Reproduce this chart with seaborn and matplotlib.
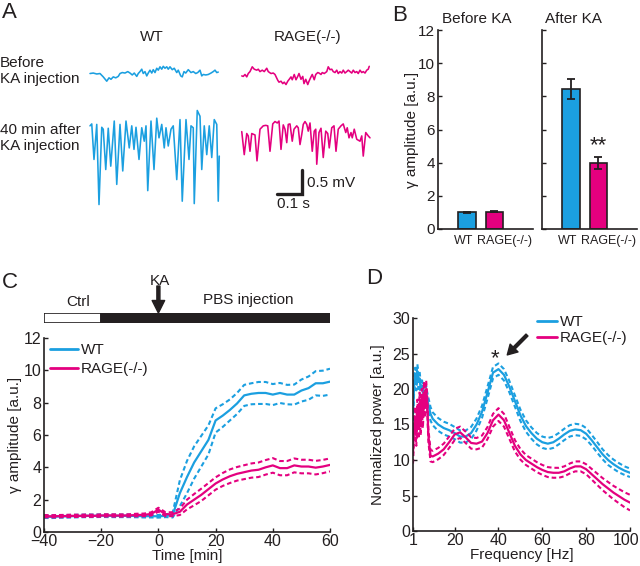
import matplotlib.pyplot as plt
import matplotlib.transforms as mtrans
import numpy as np
import seaborn as sns

blue = '#1b9fe0'
pink = '#e4007f'

# ---- A: example LFP traces (turning points), time [ms], voltage [mV]
wt_pre_t = [20, 33, 47, 60, 73, 87, 96, 104, 113, 123, 133, 140, 149, 160, 171, 180, 189, 197, 207, 213,
            220, 227, 233, 240, 247, 253, 260, 267, 273, 280, 287, 293, 300, 307, 313, 320, 327, 333, 340,
            349, 357, 367, 373, 383, 389, 396, 403, 413, 424, 433, 443, 451, 460, 467, 473, 483, 493, 504,
            513, 520, 527, 533]
wt_pre_v = [-0.01, 0.0, -0.02, -0.01, -0.08, -0.17, -0.10, -0.13, -0.08, -0.10, -0.07, -0.01, 0.01, 0.0, 0.03,
            0.0, -0.04, 0.0, -0.07, -0.01, 0.03, 0.08, -0.01, 0.03, -0.06, 0.0, 0.06, 0.0, 0.07, 0.01, 0.10,
            0.06, 0.13, 0.08, 0.14, 0.10, 0.13, 0.08, 0.13, 0.07, 0.10, 0.01, 0.06, -0.06, -0.08, 0.03, 0.0,
            0.07, 0.01, 0.03, -0.01, 0.01, 0.06, -0.06, -0.03, -0.04, -0.03, 0.0, 0.03, 0.06, 0.01, 0.02]

rage_pre_t = [27, 33, 40, 47, 53, 60, 69, 77, 87, 93, 100, 109, 117, 127, 133, 144, 153, 160, 171, 176,
              184, 191, 197, 204, 211, 217, 224, 229, 237, 244, 251, 256, 264, 271, 276, 283, 291, 296, 304,
              309, 317, 323, 331, 336, 344, 349, 357, 367, 373, 380, 387, 393, 400, 407, 413, 420, 427, 433,
              440, 447, 453, 460, 467, 473, 480, 487, 493, 500, 507, 513, 520, 527, 533, 537]
rage_pre_v = [-0.06, -0.07, -0.03, -0.08, -0.01, 0.03, 0.13, 0.08, 0.06, 0.08, 0.03, 0.06, 0.03, 0.10, 0.03,
              -0.01, 0.0, -0.03, -0.15, -0.19, -0.17, -0.22, -0.19, -0.24, -0.17, -0.13, -0.08, -0.14, -0.03,
              -0.14, -0.07, -0.01, -0.13, -0.07, -0.22, -0.13, -0.24, -0.17, -0.08, -0.03, -0.14, -0.03, 0.01,
              0.0, -0.03, 0.01, -0.01, 0.03, 0.13, 0.07, 0.08, 0.03, 0.01, 0.06, -0.01, 0.03, 0.0, 0.06, 0.0,
              0.03, 0.06, 0.03, 0.0, 0.06, 0.01, 0.03, -0.01, 0.06, 0.01, 0.03, 0.0, 0.06, 0.08, 0.14]

wt_post_t = [20, 27, 36, 47, 56, 67, 73, 83, 93, 103, 117, 127, 140, 151, 164, 177, 187, 196, 204, 216,
             227, 237, 244, 251, 264, 276, 287, 296, 307, 317, 324, 333, 344, 353, 367, 380, 389, 404, 416,
             424, 433, 437, 449, 460, 467, 477, 487, 497, 507, 517, 527, 533, 537]
wt_post_v = [-0.03, 0.01, -0.73, 0.0, -1.67, -0.06, -0.10, -0.94, -0.08, -0.87, 0.07, -1.25, 0.0, -0.97, 0.07,
             -0.49, -0.03, -0.52, -0.06, -0.73, -0.07, -0.35, -0.03, -1.38, 0.07, -0.94, 0.13, -0.28, 0.0,
             -0.49, -0.07, -0.45, -0.10, -0.03, -1.15, 0.10, -1.60, 0.10, -0.73, -0.03, -0.07, -1.65, 0.29,
             0.17, -0.94, -0.03, -0.63, -0.03, -0.69, 0.10, 0.0, -1.60, -0.66]

rage_post_t = [27, 37, 47, 53, 60, 67, 80, 88, 100, 113, 123, 131, 140, 151, 160, 169, 176, 184, 193, 200,
               207, 213, 220, 229, 236, 247, 253, 260, 267, 273, 280, 287, 293, 300, 309, 317, 323, 327, 336,
               344, 353, 363, 371, 377, 387, 396, 404, 413, 424, 433, 443, 449, 456, 464, 469, 477, 487, 500,
               507, 513, 523, 533, 540]
rage_post_v = [-0.15, -0.63, -0.19, -0.24, -0.56, -0.19, -0.22, -0.76, -0.10, -0.03, -0.02, -0.03, -0.56, 0.01,
               0.06, 0.03, 0.07, -0.52, -0.01, -0.10, -0.38, 0.0, 0.01, -0.35, -0.10, -0.03, -0.07, -0.42,
               -0.21, 0.0, 0.06, 0.0, -0.14, 0.03, -0.56, -0.14, -0.10, -0.83, -0.17, -0.08, -0.69, -0.14,
               -0.19, -0.49, -0.07, -0.03, -0.56, -0.10, -0.03, 0.01, -0.17, -0.07, -0.28, -0.17, -0.28,
               -0.10, -0.31, -0.35, -0.24, -0.66, -0.17, -0.24, -0.28]

# ---- B: gamma amplitude
groups = ['WT', 'RAGE(-/-)']
before_mean = [1.02, 1.04]
before_sem = [0.03, 0.04]
after_mean = [8.45, 4.0]
after_sem = [0.62, 0.36]

# ---- C: time course
time_min = [-40, -37.5, -35, -32.5, -30, -27.5, -25, -22.5, -20, -17.5, -15, -12.5, -10, -7.5, -5, -2.5, 0,
            2.5, 5, 7.5, 10, 12.5, 15, 17.5, 20, 22.5, 25, 27.5, 30, 32.5, 35, 37.5, 40, 42.5, 45, 47.5, 50,
            52.5, 55, 57.5, 60]
wt_time_mean = [0.95, 0.94, 0.96, 0.97, 0.98, 0.99, 1.0, 1.0, 1.01, 1.0, 1.0, 1.0, 1.0, 0.99, 0.98, 0.98, 0.97,
                1.0, 1.05, 2.4, 3.4, 4.3, 5.0, 5.7, 6.9, 7.2, 7.55, 7.95, 8.45, 8.55, 8.6, 8.6, 8.5, 8.6, 8.5,
                8.5, 8.75, 8.9, 9.2, 9.2, 9.3]
wt_time_sem = [0.08, 0.08, 0.08, 0.08, 0.08, 0.08, 0.08, 0.08, 0.08, 0.08, 0.08, 0.08, 0.08, 0.08, 0.08, 0.08,
               0.08, 0.08, 0.15, 0.8, 1.0, 1.0, 0.95, 0.9, 0.75, 0.7, 0.65, 0.65, 0.65, 0.65, 0.68, 0.68, 0.65,
               0.62, 0.6, 0.62, 0.68, 0.72, 0.75, 0.78, 0.8]
rage_time_mean = [0.98, 0.97, 0.98, 0.99, 1.0, 1.0, 1.01, 1.0, 1.02, 1.03, 1.02, 1.02, 1.03, 1.05, 1.06, 1.12,
                  1.38, 1.1, 1.1, 1.25, 1.7, 2.0, 2.3, 2.65, 3.0, 3.25, 3.45, 3.6, 3.7, 3.8, 3.85, 4.0, 4.12,
                  3.95, 3.95, 4.12, 4.05, 4.05, 3.98, 4.05, 4.15]
rage_time_sem = [0.07, 0.07, 0.07, 0.07, 0.07, 0.07, 0.07, 0.07, 0.07, 0.07, 0.07, 0.07, 0.07, 0.08, 0.08, 0.1,
                 0.12, 0.12, 0.12, 0.2, 0.3, 0.35, 0.38, 0.38, 0.38, 0.4, 0.42, 0.42, 0.43, 0.44, 0.45, 0.45,
                 0.45, 0.44, 0.44, 0.43, 0.42, 0.42, 0.42, 0.41, 0.4]
phase_start = [-40, -20]
phase_len = [20, 80]
phase_color = ['white', '#231f20']

# ---- D: power spectra
freq = [1, 1.5, 2, 2.5, 3, 3.5, 4, 4.5, 5, 5.5, 6, 6.5, 7, 7.5, 8, 9, 10, 12.5, 15, 17.5, 20, 22.5, 25, 27.5,
        30, 32.5, 35, 37.5, 40, 42.5, 45, 47.5, 50, 52.5, 55, 57.5, 60, 62.5, 65, 67.5, 70, 72.5, 75, 77.5,
        80, 82.5, 85, 87.5, 90, 92.5, 95, 97.5, 100]
wt_pow = [16.5, 20.5, 22.0, 20.8, 22.5, 21.0, 21.5, 20.0, 20.5, 19.5, 19.8, 19.0, 19.5, 18.5, 17.8, 16.5, 15.8,
          15.0, 14.5, 14.2, 13.8, 13.3, 13.3, 13.8, 15.0, 16.8, 19.5, 22.3, 22.8, 22.0, 20.3, 18.3, 16.3, 14.8,
          13.8, 13.0, 12.5, 12.3, 12.5, 13.0, 13.6, 14.1, 14.3, 14.2, 13.7, 12.8, 11.8, 10.8, 10.0, 9.4, 8.9,
          8.5, 8.2]
wt_pow_sem = [1.0, 1.0, 1.0, 1.0, 1.0, 1.0, 1.0, 1.0, 1.0, 1.0, 1.0, 1.0, 1.0, 1.0, 1.0, 0.95, 0.9, 0.9, 0.9,
              0.9, 0.85, 0.85, 0.85, 0.85, 0.85, 0.85, 0.85, 0.8, 0.8, 0.8, 0.8, 0.8, 0.8, 0.8, 0.8, 0.8, 0.8,
              0.8, 0.8, 0.8, 0.8, 0.8, 0.8, 0.8, 0.8, 0.75, 0.75, 0.7, 0.7, 0.65, 0.65, 0.6, 0.6]
rage_pow = [11.0, 14.5, 16.0, 13.5, 17.0, 14.5, 18.0, 15.0, 18.5, 16.0, 19.5, 17.5, 20.0, 18.0, 13.5, 10.6,
            10.5, 10.9, 11.5, 12.5, 13.6, 13.9, 13.2, 12.4, 12.3, 12.6, 13.8, 15.6, 16.4, 15.6, 13.8, 12.0,
            10.8, 10.0, 9.5, 9.0, 8.6, 8.3, 8.2, 8.2, 8.4, 8.8, 9.1, 9.1, 8.7, 8.0, 7.3, 6.6, 6.0, 5.4, 4.9,
            4.4, 4.0]
rage_pow_sem = [1.5, 1.5, 1.5, 1.5, 1.5, 1.5, 1.5, 1.5, 1.5, 1.5, 1.5, 1.5, 1.2, 1.0, 0.9, 0.8, 0.8, 0.8, 0.8,
                0.8, 0.8, 0.8, 0.8, 0.8, 0.8, 0.85, 0.85, 0.9, 0.9, 0.9, 0.85, 0.8, 0.75, 0.7, 0.7, 0.7, 0.7,
                0.7, 0.7, 0.7, 0.7, 0.7, 0.7, 0.7, 0.7, 0.75, 0.8, 0.85, 0.9, 0.95, 1.0, 1.05, 1.1]

sns.set_theme(style='ticks')
plt.rcParams['font.family'] = ['Liberation Sans', 'DejaVu Sans']
plt.rcParams.update({
    'font.size': 11,
    'axes.linewidth': 1.2,
    'axes.edgecolor': '#231f20',
    'xtick.direction': 'in',
    'ytick.direction': 'in',
    'xtick.major.size': 3,
    'ytick.major.size': 3,
    'xtick.major.width': 1.0,
    'ytick.major.width': 1.0,
    'xtick.major.pad': 1.5,
    'ytick.major.pad': 2,
    'xtick.labelsize': 11.5,
    'ytick.labelsize': 11.5,
    'text.color': '#231f20',
    'xtick.color': '#231f20',
    'ytick.color': '#231f20',
    'axes.labelcolor': '#231f20',
})

W, H = 640, 566
fig = plt.figure(figsize=(6.4, 5.66), dpi=100)


def fx(px):
    return px / W


def fy(py):
    return 1 - py / H


def add_ax(l, t, r, b):
    return fig.add_axes([l / W, 1 - b / H, (r - l) / W, (b - t) / H])


dash = (0, (2.2, 1.4))

# panel letters
for lab, px, py in [('A', 2, 2), ('B', 392, 5), ('C', 2, 272), ('D', 366, 268)]:
    fig.text(fx(px), fy(py), lab, fontsize=16, va='top', ha='left')

# ---------------- A
axA = add_ax(85, 50, 385, 215)
pre_off, post_off, rage_shift = -0.48, -1.55, 600
for t, v, dx, dy, c in [(wt_pre_t, wt_pre_v, 0, pre_off, blue),
                        (rage_pre_t, rage_pre_v, rage_shift, pre_off, pink),
                        (wt_post_t, wt_post_v, 0, post_off, blue),
                        (rage_post_t, rage_post_v, rage_shift, post_off, pink)]:
    sns.lineplot(x=np.array(t) + dx, y=np.array(v) + dy, color=c, lw=1.15, ax=axA)
axA.plot([768, 868, 868], [-3.0, -3.0, -2.5], color='#231f20', lw=2.4, solid_joinstyle='miter')
axA.text(888, -2.77, '0.5 mV', ha='left', va='center', fontsize=11)
axA.text(768, -3.2, '0.1 s', ha='left', va='center', fontsize=11)
axA.set_xlim(0, 1200)
axA.set_ylim(-3.4375, 0)
axA.axis('off')
fig.text(fx(152), fy(37), 'WT', ha='center', va='center', fontsize=11)
fig.text(fx(308), fy(37), 'RAGE(-/-)', ha='center', va='center', fontsize=11)
fig.text(0, fy(71), 'Before\nKA injection', ha='left', va='center', fontsize=11, linespacing=1.25)
fig.text(0, fy(138), '40 min after\nKA injection', ha='left', va='center', fontsize=11, linespacing=1.25)

# ---------------- B
axB1 = add_ax(438, 30, 533, 229)
axB2 = add_ax(542, 30, 637, 229)
for ax, m, s, title, tx in [(axB1, before_mean, before_sem, 'Before KA', 0.41),
                            (axB2, after_mean, after_sem, 'After KA', 0.33)]:
    sns.barplot(x=groups, y=m, hue=groups, palette=[blue, pink], legend=False, width=0.65,
                edgecolor='#231f20', linewidth=1.2, saturation=1, ax=ax)
    ax.errorbar([0, 1], m, yerr=s, fmt='none', ecolor='#231f20', elinewidth=1.3, capsize=3, capthick=1.3)
    ax.set_xlim(-1.05, 2.4)
    ax.set_ylim(0, 12)
    ax.set_yticks(range(0, 13, 2))
    ax.set_xticks([-0.13, 1.38])
    ax.set_xticklabels(groups, fontsize=9)
    ax.tick_params(axis='x', length=0, pad=4)
    ax.tick_params(axis='y', labelsize=11)
    ax.set_title(title, fontsize=11, pad=5, x=tx)
    ax.set_xlabel('')
    sns.despine(ax=ax)
axB2.set_yticklabels([])
axB1.set_ylabel('γ amplitude [a.u.]', fontsize=11)
axB1.yaxis.set_label_coords(-0.2, 0.5)
axB2.text(1, 5.0, '**', ha='center', va='center', fontsize=16)

# ---------------- C
axBar = add_ax(44, 313, 330, 323)
axBar.barh([0.5, 0.5], phase_len, left=phase_start, height=1, color=phase_color,
           edgecolor='#231f20', linewidth=1.2)
axBar.set_xlim(-40, 60)
axBar.set_ylim(0, 1)
axBar.axis('off')
axBar.annotate('', xy=(0, 1.0), xytext=(0, 3.7), annotation_clip=False,
               arrowprops=dict(facecolor='#231f20', edgecolor='#231f20', width=2.2, headwidth=9,
                               headlength=9, shrink=0))
fig.text(fx(160), fy(281), 'KA', ha='center', va='center', fontsize=11)
fig.text(fx(78), fy(302), 'Ctrl', ha='center', va='center', fontsize=11)
fig.text(fx(248), fy(300), 'PBS injection', ha='center', va='center', fontsize=11)

axC = add_ax(44, 338, 330, 532)
hC = []
for mean, sem, col, lab in [(wt_time_mean, wt_time_sem, blue, 'WT'),
                            (rage_time_mean, rage_time_sem, pink, 'RAGE(-/-)')]:
    mm, ss = np.array(mean), np.array(sem)
    sns.lineplot(x=time_min, y=mm + ss, color=col, lw=1.5, linestyle=dash, ax=axC)
    sns.lineplot(x=time_min, y=mm - ss, color=col, lw=1.5, linestyle=dash, ax=axC)
    sns.lineplot(x=time_min, y=mm, color=col, lw=1.6, ax=axC)
    hC.append(plt.Line2D([], [], color=col, lw=2, label=lab))
axC.set_xlim(-40, 60)
axC.set_ylim(0, 12)
axC.set_xticks(range(-40, 61, 20))
axC.set_yticks(range(0, 13, 2))
axC.set_xlabel('Time [min]', fontsize=11)
axC.set_ylabel('γ amplitude [a.u.]', fontsize=11)
axC.xaxis.set_label_coords(0.5, -0.088)
axC.yaxis.set_label_coords(-0.077, 0.5)
axC.legend(handles=hC, loc='upper left', bbox_to_anchor=(fx(50), fy(343)), bbox_transform=fig.transFigure,
           frameon=False, fontsize=11, handlelength=1.8, handletextpad=0.2, labelspacing=0.35,
           borderpad=0, borderaxespad=0)
sns.despine(ax=axC)

# ---------------- D
axD = add_ax(413, 318, 630, 531)
hD = []
for mean, sem, col, lab in [(wt_pow, wt_pow_sem, blue, 'WT'),
                            (rage_pow, rage_pow_sem, pink, 'RAGE(-/-)')]:
    mm, ss = np.array(mean), np.array(sem)
    sns.lineplot(x=freq, y=mm + ss, color=col, lw=1.5, linestyle=dash, ax=axD)
    sns.lineplot(x=freq, y=mm - ss, color=col, lw=1.5, linestyle=dash, ax=axD)
    sns.lineplot(x=freq, y=mm, color=col, lw=1.6, ax=axD)
    hD.append(plt.Line2D([], [], color=col, lw=2, label=lab))
axD.set_xlim(1, 100)
axD.set_ylim(0, 30)
axD.set_xticks([1, 20, 40, 60, 80, 100])
axD.set_yticks(range(0, 31, 5))
axD.set_xlabel('Frequency [Hz]', fontsize=11)
axD.set_ylabel('Normalized power [a.u.]', fontsize=11)
axD.xaxis.set_label_coords(0.5, -0.082)
axD.yaxis.set_label_coords(-0.129, 0.5)
last = axD.get_xticklabels()[-1]
last.set_transform(last.get_transform() + mtrans.ScaledTranslation(-0.04, 0, fig.dpi_scale_trans))
axD.legend(handles=hD, loc='upper left', bbox_to_anchor=(fx(537), fy(315)), bbox_transform=fig.transFigure,
           frameon=False, fontsize=11, handlelength=1.3, handletextpad=0.2, labelspacing=0.15,
           borderpad=0, borderaxespad=0)
axD.text(38.5, 24.3, '*', ha='center', va='center', fontsize=16)
axD.annotate('', xy=(44, 24.8), xytext=(53, 27.6), annotation_clip=False,
             arrowprops=dict(facecolor='#231f20', edgecolor='#231f20', width=2, headwidth=8,
                             headlength=7, shrink=0))
sns.despine(ax=axD)

fig.savefig('out.png', dpi=100)
